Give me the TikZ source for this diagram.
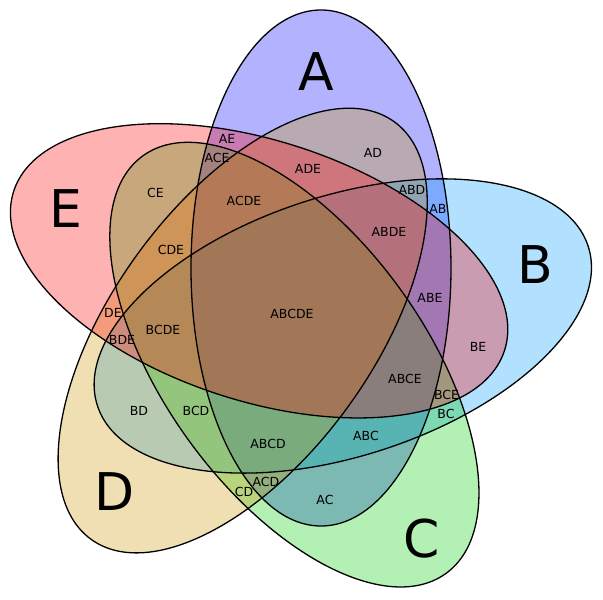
\documentclass[tikz,border=0pt]{standalone}
\usepackage{fontspec}
\setmainfont{DejaVu Sans}
\definecolor{SetAClr}{rgb}{0,0,1}
\definecolor{SetBClr}{rgb}{0,0.6,1}
\definecolor{SetCClr}{rgb}{0,0.8,0.02}
\definecolor{SetDClr}{rgb}{0.8,0.59,0}
\definecolor{SetEClr}{rgb}{1,0,0}
\tikzset{
  setfill/.style={fill=#1,fill opacity=0.3},
  setline/.style={draw=black,line width=1.3pt},
  setname/.style={inner sep=0pt,font=\fontsize{52}{60}\selectfont},
  zone/.style={inner sep=0pt,font=\fontsize{12.5}{14}\selectfont}
}
\begin{document}
\begin{tikzpicture}[x=1pt,y=1pt]
\useasboundingbox (-292,-288) rectangle (311,312);

\foreach \ang/\clr in {0/SetAClr,-72/SetBClr,-144/SetCClr,-216/SetDClr,-288/SetEClr}
  \fill[setfill=\clr,rotate=\ang] (29,44) ellipse [x radius=130,y radius=258];
\foreach \ang in {0,-72,-144,-216,-288}
  \draw[setline,rotate=\ang] (29,44) ellipse [x radius=130,y radius=258];

\node[setname] (nA) at (24,240) {A};
\node[setname] (nB) at (243,47) {B};
\node[setname] (nC) at (130,-227) {C};
\node[setname] (nD) at (-177,-180) {D};
\node[setname] (nE) at (-226,103) {E};

\node[zone] (nAE) at (-65,173) {AE};
\node[zone] (nACE) at (-75,154) {ACE};
\node[zone] (nAD) at (81,159) {AD};
\node[zone] (nADE) at (16,143) {ADE};
\node[zone] (nABD) at (120,122) {ABD};
\node[zone] (nAB) at (146,103) {AB};
\node[zone] (nACDE) at (-48,111) {ACDE};
\node[zone] (nCE) at (-136.5,119) {CE};
\node[zone] (nCDE) at (-121,62) {CDE};
\node[zone] (nABDE) at (97,80) {ABDE};
\node[zone] (nABCDE) at (0,-2) {ABCDE};
\node[zone] (nABE) at (138,14) {ABE};
\node[zone] (nBE) at (186,-35) {BE};
\node[zone] (nDE) at (-179,-1) {DE};
\node[zone] (nBDE) at (-170,-28) {BDE};
\node[zone] (nBCDE) at (-129,-18) {BCDE};
\node[zone] (nABCE) at (113,-67) {ABCE};
\node[zone] (nBCE) at (154.5,-83) {BCE};
\node[zone] (nBC) at (154,-102) {BC};
\node[zone] (nABC) at (74,-124) {ABC};
\node[zone] (nBD) at (-153,-99) {BD};
\node[zone] (nBCD) at (-96,-99) {BCD};
\node[zone] (nABCD) at (-24,-132) {ABCD};
\node[zone] (nACD) at (-26,-170) {ACD};
\node[zone] (nCD) at (-48,-180) {CD};
\node[zone] (nAC) at (33,-188) {AC};

\end{tikzpicture}
\end{document}
